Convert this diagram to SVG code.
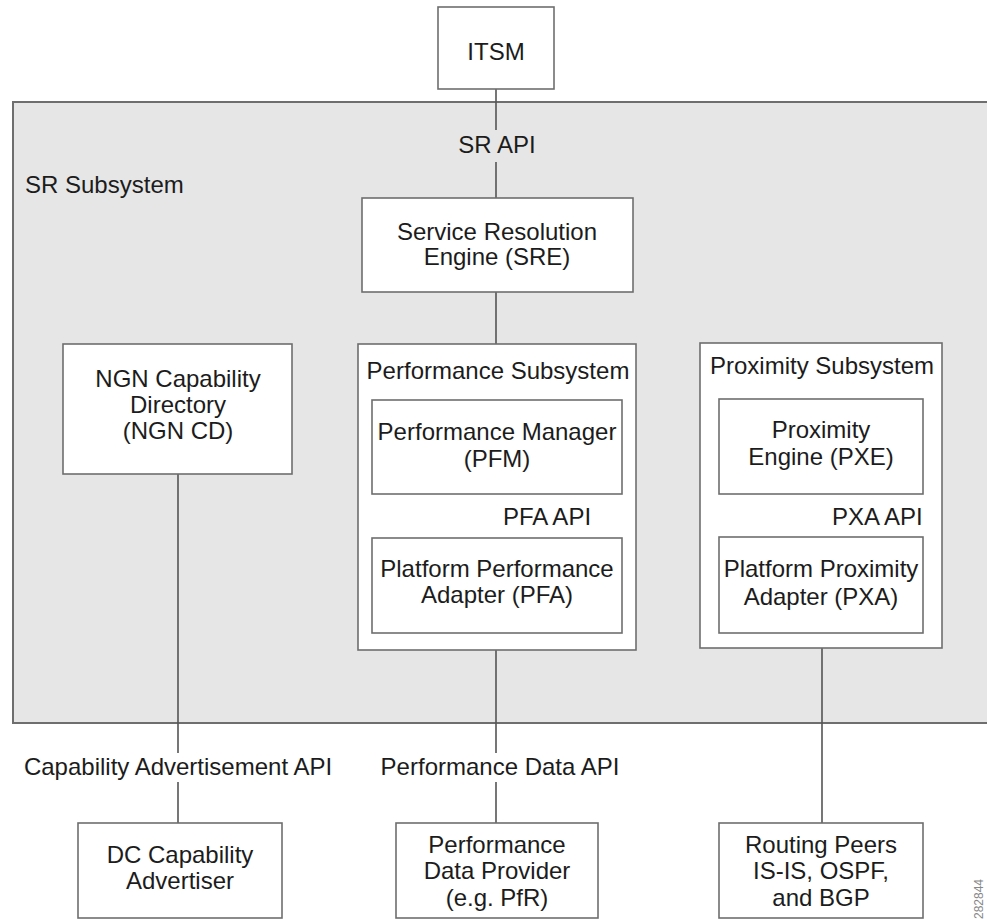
<svg xmlns="http://www.w3.org/2000/svg" width="987" height="919" viewBox="0 0 987 919">
<style>
text{font-family:"Liberation Sans",Arial,sans-serif;font-size:24px;fill:#1c1c1c}
.c{text-anchor:middle}
.box{fill:#fff;stroke:#6e6e6e;stroke-width:1.6}
.ln{stroke:#555;stroke-width:1.6;fill:none}
</style>
<rect width="987" height="919" fill="#fff"/>
<g id="sr-subsystem">
<rect x="13" y="102" width="990" height="621" fill="#e6e6e6" stroke="#6e6e6e" stroke-width="2"/>
<text x="25" y="193">SR Subsystem</text>
</g>
<g id="connectors">
<path class="ln" d="M496 89V130M496 162V198M496 292V400M496 494V538M496 633V753M496 782V823"/>
<path class="ln" d="M178 474V753M178 782V823"/>
<path class="ln" d="M822 494V537M822 633V823"/>
</g>
<g id="itsm">
<rect class="box" x="438" y="7" width="116" height="82"/>
<text class="c" x="496" y="60">ITSM</text>
</g>
<g id="sr-api"><text class="c" x="497" y="153">SR API</text></g>
<g id="sre">
<rect class="box" x="362" y="198" width="271" height="94"/>
<text class="c" x="497" y="240">Service Resolution</text>
<text class="c" x="497" y="265">Engine (SRE)</text>
</g>
<g id="ngn-cd">
<rect class="box" x="63" y="344" width="229" height="130"/>
<text class="c" x="178" y="387">NGN Capability</text>
<text class="c" x="178" y="413">Directory</text>
<text class="c" x="178" y="439">(NGN CD)</text>
</g>
<g id="performance-subsystem">
<rect class="box" x="358" y="344" width="278" height="306"/>
<text class="c" x="498" y="379">Performance Subsystem</text>
</g>
<g id="pfm">
<rect class="box" x="372" y="400" width="250" height="94"/>
<text class="c" x="497" y="440">Performance Manager</text>
<text class="c" x="497" y="467">(PFM)</text>
</g>
<g id="pfa-api"><text x="503" y="525">PFA API</text></g>
<g id="pfa">
<rect class="box" x="372" y="538" width="250" height="95"/>
<text class="c" x="497" y="577">Platform Performance</text>
<text class="c" x="497" y="603">Adapter (PFA)</text>
</g>
<g id="proximity-subsystem">
<rect class="box" x="700" y="343" width="242" height="305"/>
<text class="c" x="822" y="374">Proximity Subsystem</text>
</g>
<g id="pxe">
<rect class="box" x="719" y="399" width="204" height="95"/>
<text class="c" x="821" y="438">Proximity</text>
<text class="c" x="821" y="465">Engine (PXE)</text>
</g>
<g id="pxa-api"><text x="832" y="525">PXA API</text></g>
<g id="pxa">
<rect class="box" x="719" y="537" width="204" height="96"/>
<text class="c" x="821" y="577">Platform Proximity</text>
<text class="c" x="821" y="605">Adapter (PXA)</text>
</g>
<g id="cap-adv-api"><text class="c" x="178" y="775">Capability Advertisement API</text></g>
<g id="perf-data-api"><text class="c" x="500" y="775">Performance Data API</text></g>
<g id="dc-cap">
<rect class="box" x="78" y="823" width="204" height="95"/>
<text class="c" x="180" y="863">DC Capability</text>
<text class="c" x="180" y="889">Advertiser</text>
</g>
<g id="pdp">
<rect class="box" x="396" y="823" width="202" height="95"/>
<text class="c" x="497" y="853">Performance</text>
<text class="c" x="497" y="879">Data Provider</text>
<text class="c" x="497" y="906">(e.g. PfR)</text>
</g>
<g id="routing-peers">
<rect class="box" x="719" y="823" width="204" height="95"/>
<text class="c" x="821" y="853">Routing Peers</text>
<text class="c" x="821" y="879">IS-IS, OSPF,</text>
<text class="c" x="821" y="906">and BGP</text>
</g>
<text x="0" y="0" transform="translate(983 919) rotate(-90)" style="font-size:12px;fill:#888">282844</text>
</svg>
